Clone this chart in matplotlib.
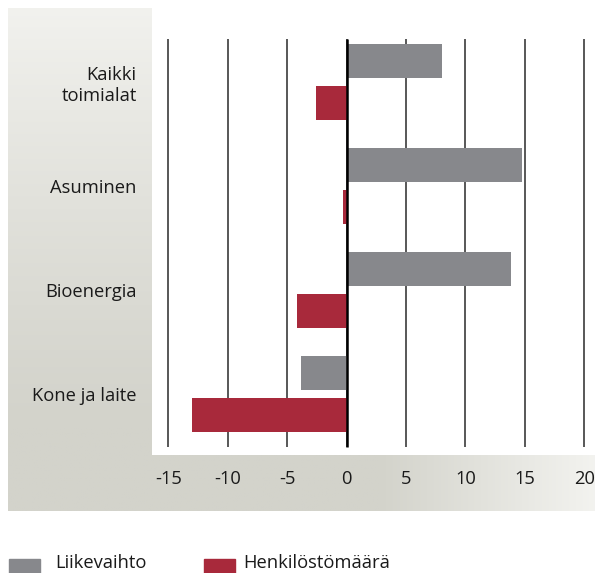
import numpy as np
import matplotlib
matplotlib.use("Agg")
import matplotlib.pyplot as plt
from matplotlib.patches import Rectangle

plt.rcParams["font.family"] = ["Open Sans", "DejaVu Sans"]

categories = ["Kaikki\ntoimialat", "Asuminen", "Bioenergia", "Kone ja laite"]
liikevaihto = [8.0, 14.8, 13.8, -3.8]
henkilosto = [-2.6, -0.3, -4.2, -13.0]
xticks = [-15, -10, -5, 0, 5, 10, 15, 20]
series_names = ["Liikevaihto", "Henkilöstömäärä"]

GRAY = "#87888c"
RED = "#a8293b"
FS = 13.2

W, H = 595, 573
fig = plt.figure(figsize=(W / 100, H / 100), dpi=100)


def fx(px):
    return px / W


def fy(py):
    return 1 - py / H


# background panel with soft gradient (lighter to top and to the right)
bg = fig.add_axes([0, 0, 1, 1], zorder=0)
bg.set_axis_off()
x0, x1, y0, y1 = 8, 595, 8, 511
xs = np.linspace(x0, x1, 300)
ys = np.linspace(y0, y1, 300)
X, Y = np.meshgrid(xs, ys)
tv = np.clip(1 - (Y - y0) / 420.0, 0, 1) ** 1.2
th = np.clip((X - 380) / 215.0, 0, 1) * 0.88
t = np.maximum(tv * 0.85, th)
base = np.array([211, 211, 203]) / 255.0
light = np.array([247, 247, 244]) / 255.0
img = base[None, None, :] * (1 - t[..., None]) + light[None, None, :] * t[..., None]
bg.imshow(img, extent=[x0, x1, y1, y0], aspect="auto")
bg.set_xlim(0, W)
bg.set_ylim(H, 0)

# main plot area (white)
ax = fig.add_axes([fx(152), fy(455), fx(595) - fx(152), fy(0) - fy(455)], zorder=1)
ax.set_facecolor("white")
for s in ax.spines.values():
    s.set_visible(False)

pos = np.arange(len(categories))
h = 0.327
off = 0.202
ax.vlines(xticks, -0.413, 3.51, color="#4a4a4a", linewidth=1.3, zorder=1)
ax.barh(pos - off, liikevaihto, height=h, color=GRAY, zorder=2)
ax.barh(pos + off, henkilosto, height=h, color=RED, zorder=2)
ax.vlines([0], -0.413, 3.51, color="black", linewidth=1.8, zorder=3)

ax.set_xlim(-16.37, 20.9)
ax.set_ylim(3.587, -0.788)
ax.set_xticks(xticks)
ax.set_xticklabels([str(v) for v in xticks])
ax.set_yticks(pos)
ax.set_yticklabels(categories, ha="right", multialignment="right")
ax.tick_params(axis="both", length=0, labelsize=FS, colors="#1a1a1a")
ax.tick_params(axis="x", pad=11)
ax.tick_params(axis="y", pad=11)

# legend
fig.patches.append(Rectangle((fx(9), fy(573)), fx(40) - fx(9), fy(559) - fy(573),
                             transform=fig.transFigure, color=GRAY, zorder=2))
fig.text(fx(55), fy(567.5), series_names[0], fontsize=FS, va="baseline", color="#1a1a1a")
fig.patches.append(Rectangle((fx(204), fy(573)), fx(235) - fx(204), fy(559) - fy(573),
                             transform=fig.transFigure, color=RED, zorder=2))
fig.text(fx(243), fy(567.5), series_names[1], fontsize=FS, va="baseline", color="#1a1a1a")

fig.savefig("out.png", dpi=100)
